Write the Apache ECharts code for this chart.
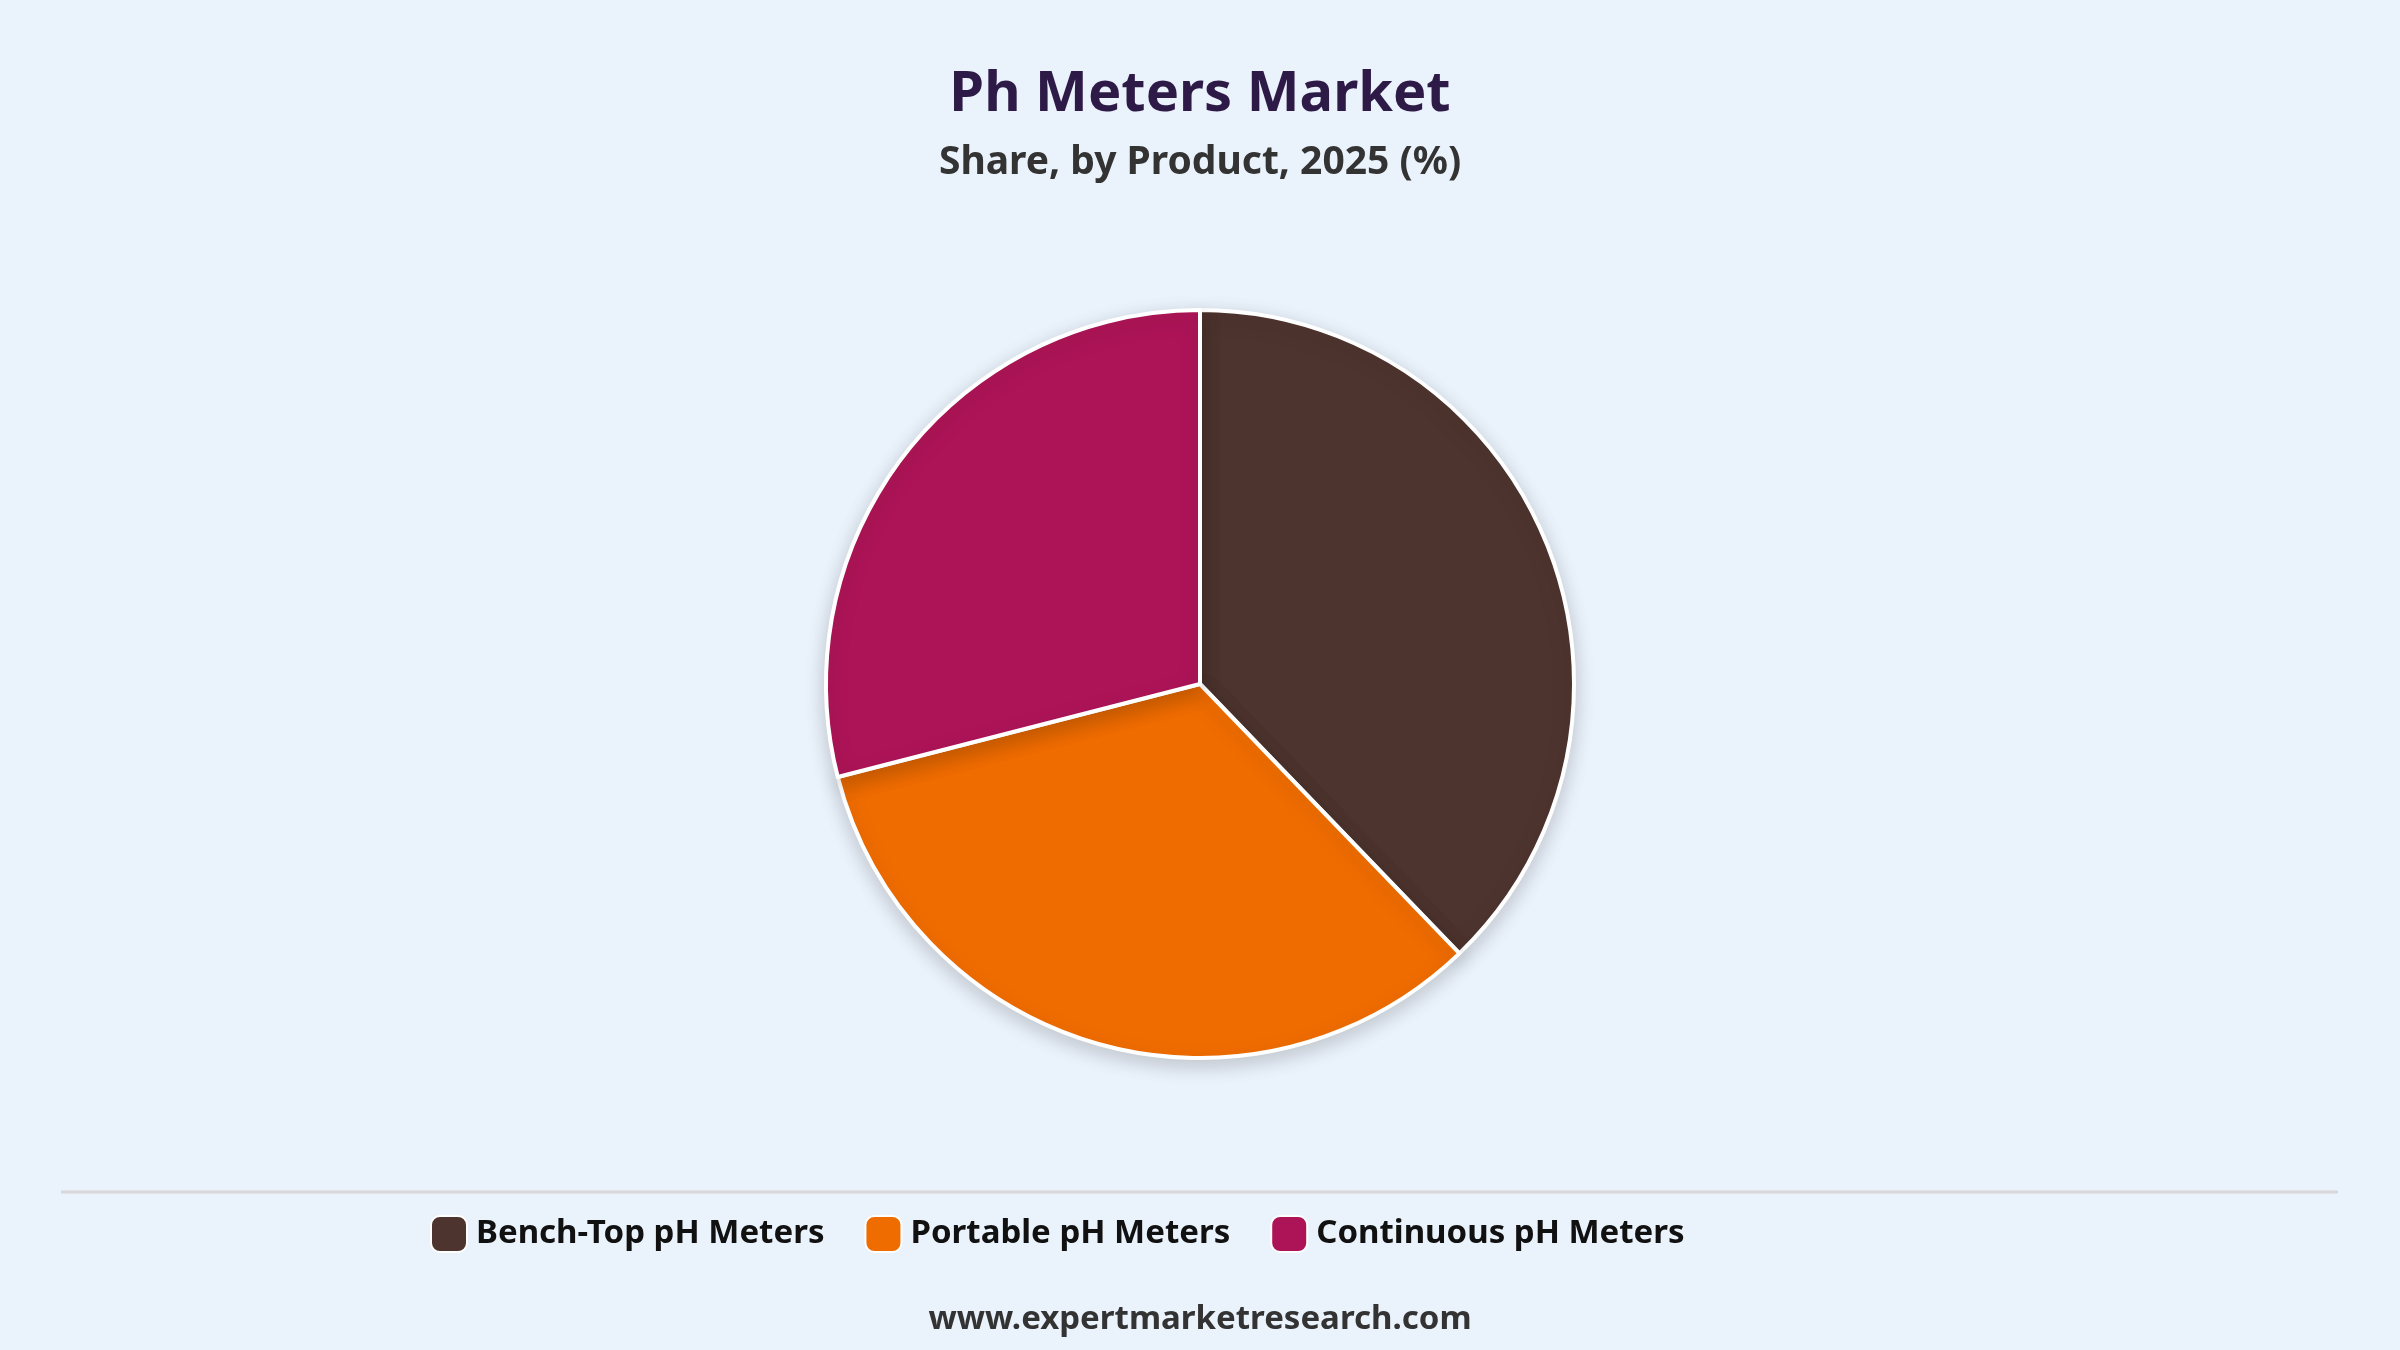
<!DOCTYPE html>
<html><head><meta charset="utf-8">
<script src="https://cdn.jsdelivr.net/npm/echarts@6/dist/echarts.min.js"></script>
<style>html,body{margin:0;padding:0;background:#EAF2FB}#c{width:2400px;height:1350px}</style>
</head><body><div id="c"></div>
<script>
const categories = ["Bench-Top pH Meters", "Portable pH Meters", "Continuous pH Meters"];
const shares = [37.8, 33.2, 29.0];
const colors = ["#4E342E", "#EF6C00", "#AD1457"];
const chart = echarts.init(document.getElementById('c'));
const F = "'Noto Sans', 'Open Sans', sans-serif";
chart.setOption({
  backgroundColor: '#EAF2FB',
  color: colors,
  title: [
    {text: 'Ph Meters Market', left: 'center', top: 62, textStyle: {fontFamily: F, fontSize: 56, fontWeight: 'bold', color: '#2E1A47'}},
    {text: 'Share, by Product, 2025 (%)', left: 'center', top: 138, textStyle: {fontFamily: F, fontSize: 39, fontWeight: 'bold', color: '#333333'}},
    {text: 'www.expertmarketresearch.com', left: 'center', top: 1298, textStyle: {fontFamily: F, fontSize: 33, fontWeight: 'bold', color: '#333333'}}
  ],
  legend: {
    data: categories, left: 425, top: 1210, orient: 'horizontal',
    itemWidth: 36, itemHeight: 36, itemGap: 40, icon: 'roundRect',
    textStyle: {fontFamily: F, fontSize: 33, fontWeight: 'bold', color: '#111', width: 430, padding: [0,0,0,4]}
  },
  graphic: [{type: 'line', shape: {x1: 61, y1: 1192, x2: 2338, y2: 1192}, style: {stroke: '#D8D8D8', lineWidth: 3}}],
  series: [{
    type: 'pie', center: [1200, 684], radius: [0, 374], startAngle: 90, clockwise: true,
    label: {show: false}, labelLine: {show: false}, silent: true,
    itemStyle: {borderColor: '#ffffff', borderWidth: 4, shadowBlur: 20, shadowColor: 'rgba(0,0,0,0.18)', shadowOffsetY: 6},
    data: categories.map((n, i) => ({name: n, value: shares[i]}))
  }]
});
</script></body></html>
